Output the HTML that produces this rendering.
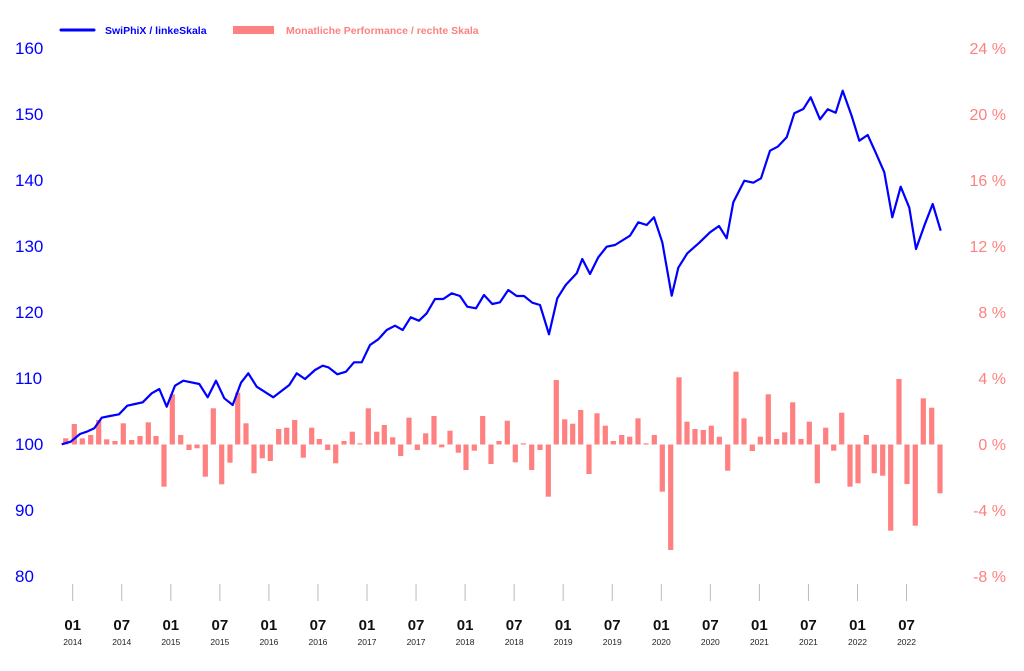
<!DOCTYPE html>
<html><head><meta charset="utf-8"><style>
html,body{margin:0;padding:0;background:#fff;}
svg{display:block;font-family:"Liberation Sans",sans-serif;}
</style></head><body>
<svg width="1024" height="671" viewBox="0 0 1024 671" xmlns="http://www.w3.org/2000/svg">
<rect width="1024" height="671" fill="#fff"/>
<!-- legend -->
<line x1="61" y1="30" x2="94" y2="30" stroke="#0000ff" stroke-width="3" stroke-linecap="round"/>
<text x="105" y="34" font-size="10.5" font-weight="bold" fill="#0000ff">SwiPhiX / linkeSkala</text>
<rect x="233" y="26" width="41" height="8" fill="#ff8080"/>
<text x="286" y="34" font-size="10.5" font-weight="bold" fill="#ff8080">Monatliche Performance / rechte Skala</text>
<!-- left axis -->
<g font-size="17" fill="#0000ff" text-anchor="start">
<text x="15" y="54">160</text><text x="15" y="120">150</text><text x="15" y="186">140</text>
<text x="15" y="252">130</text><text x="15" y="318">120</text><text x="15" y="384">110</text>
<text x="15" y="450">100</text><text x="15" y="516">90</text><text x="15" y="582">80</text>
</g>
<!-- right axis -->
<g font-size="16" fill="#ff8080" text-anchor="end">
<text x="1006" y="54">24 %</text><text x="1006" y="120">20 %</text><text x="1006" y="186">16 %</text>
<text x="1006" y="252">12 %</text><text x="1006" y="318">8 %</text><text x="1006" y="384">4 %</text>
<text x="1006" y="450">0 %</text><text x="1006" y="516">-4 %</text><text x="1006" y="582">-8 %</text>
</g>
<!-- bars -->
<g fill="#ff8080" id="bars"></g>
<!-- line -->
<polyline fill="none" stroke="#0000ff" stroke-width="2.2" stroke-linejoin="round" points="61.7,444.3 70.7,441.7 80,434 86.7,431.7 94.3,428.3 101.7,417.7 110,416 119,414.3 127.3,405.7 135,404 142.7,402.3 151.7,393.3 159.3,389 166.7,406.7 175,385.7 183.3,380.7 199.3,384 207.7,397.3 216,380.7 224.3,398.3 232.7,405 241,382.7 248.3,373.3 256.7,386.7 273.3,397.3 289.3,385 296.7,373.3 305,379 315,370 322.7,365.7 328.3,367.3 337.3,374.3 346,371.7 354,362.3 361.7,362.3 370,345 378.3,339.3 386.7,330 395,325.7 402.7,330 410.7,317.3 419,320.7 426.7,313.3 435,299 443.3,299 451.7,293.3 460,296 467.3,306.7 476,308.3 484,295 492.3,304 500,302.3 508.3,290 516.7,296 524,296 532.3,302.7 540,305 549,334.3 557.3,298.3 565.7,285 576.7,273.3 582.3,259 590,274 598.3,257.3 606.7,246.7 615,245 630,235.7 638.3,222.3 646.7,225 654,217.3 662.3,242.3 671.7,295.7 678.3,267.7 687.3,253.3 699.3,242.7 710,232.3 719,226 726.7,238.3 733.3,202.3 744.3,180.7 753.3,182.7 761,178.3 770,150.7 777.7,146.7 786.7,137.3 794.3,113.3 803.3,109 810.7,97.3 820,119.3 827.7,109.3 835.7,112.7 842.7,90.7 851.7,116 859.3,140.7 867.7,135 876,153.3 884.3,172.3 892.3,217.3 900.7,186.7 909.3,207.7 916,249 924.3,225.7 932.7,204 940.7,230.7"/>
<!-- x ticks -->
<g id="ticks" stroke="#bbb" stroke-width="1"></g>
<g id="xl" text-anchor="middle"></g>
<script>
var bars=[[65.7,438.3],[74.3,424],[82.3,438.3],[90.7,435],[98.7,420],[106.7,439.3],[115,441],[123.3,423.3],[131.7,440],[140,436],[148.3,422.3],[156,436],[164,486.7],[172.3,394.3],[180.7,435],[189,450],[197,448.3],[205.3,476.7],[213.3,408.3],[221.7,484.3],[230,462.7],[237.7,392.7],[246,423.3],[254,473.3],[262.3,458.3],[270.3,461],[278.7,429],[286.7,427.7],[294.7,420],[303.3,457.7],[311.7,427.7],[319.3,439],[327.7,450],[335.7,463.3],[344,441],[352.3,431.7],[360,443.3],[368.3,408.3],[376.7,431.7],[384.3,425],[392.7,437.3],[400.7,456],[409,417.7],[417.3,450],[425.7,433.3],[434,416],[441.7,447.3],[450,430.7],[458.3,452.7],[466,470],[474.3,450.7],[482.7,416],[491,464],[499,441],[507.3,420.7],[515.3,462.3],[523.3,443.3],[531.7,470],[540,450],[548.3,496.7],[556.3,380],[564.7,419.3],[572.7,423.7],[580.7,410],[589,474],[597,413.3],[605.3,425.7],[613.3,441],[621.7,435],[629.7,436.7],[638,418.3],[646,443.3],[654.3,435],[662.3,491.7],[670.7,550],[679,377.3],[687,421.7],[695,429],[703.3,430],[711.3,425.7],[719.3,436.7],[727.7,470.7],[736,371.7],[744,418.3],[752.3,451],[760.3,436.7],[768.3,394.3],[776.7,439],[784.7,432.3],[792.7,402.3],[801,439],[809.3,421.7],[817.3,483.3],[825.7,427.7],[833.7,450.7],[841.7,412.7],[850,486.7],[858,483.3],[866.3,435],[874.3,473.3],[882.7,475.7],[890.7,530.7],[899,379],[907,484],[915.3,525.7],[923.3,398.3],[931.7,407.7],[940,493.3]];
var ns="http://www.w3.org/2000/svg",g=document.getElementById("bars"),z=444.5;
bars.forEach(function(b){var r=document.createElementNS(ns,"rect");var y1=Math.min(z,b[1]),y2=Math.max(z,b[1]);r.setAttribute("x",b[0]-2.6);r.setAttribute("width",5.2);r.setAttribute("y",y1);r.setAttribute("height",Math.max(1,y2-y1));g.appendChild(r);});
var t=document.getElementById("ticks"),xl=document.getElementById("xl");
for(var i=0;i<18;i++){var x=72.7+i*49.05;var l=document.createElementNS(ns,"line");l.setAttribute("x1",x);l.setAttribute("x2",x);l.setAttribute("y1",584);l.setAttribute("y2",601);t.appendChild(l);
var a=document.createElementNS(ns,"text");a.setAttribute("x",x);a.setAttribute("y",630);a.setAttribute("font-size","15");a.setAttribute("font-weight","bold");a.setAttribute("fill","#111");a.textContent=(i%2==0?"01":"07");xl.appendChild(a);
var b2=document.createElementNS(ns,"text");b2.setAttribute("x",x);b2.setAttribute("y",645);b2.setAttribute("font-size","8.5");b2.setAttribute("fill","#222");b2.textContent=2014+Math.floor(i/2);xl.appendChild(b2);}
</script>
</svg>
</body></html>
